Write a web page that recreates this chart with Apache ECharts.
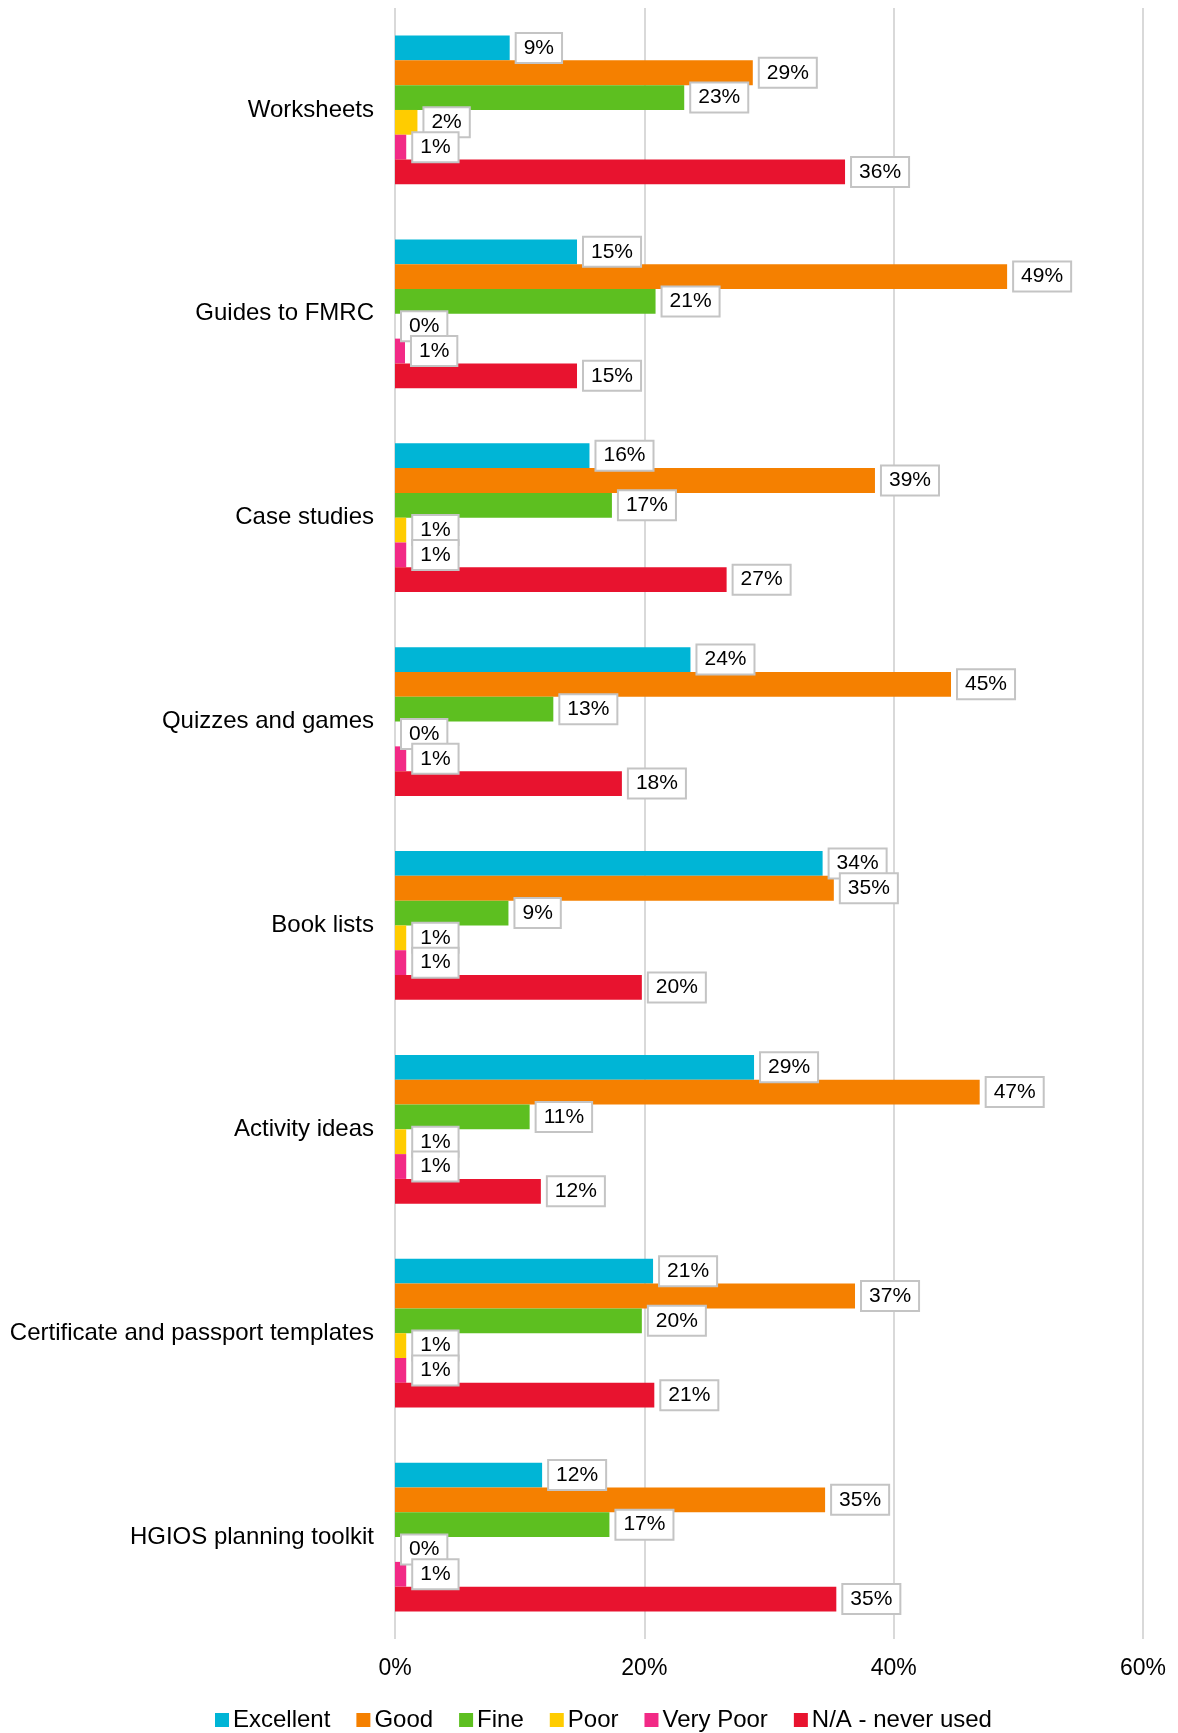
<!DOCTYPE html>
<html><head><meta charset="utf-8">
<script src="https://cdn.jsdelivr.net/npm/echarts@6/dist/echarts.min.js"></script>
<style>html,body{margin:0;padding:0;background:#fff}#chart{width:1178px;height:1733px}</style>
</head><body>
<div id="chart"></div>
<script>
// categories, top to bottom
var categories = ['Worksheets', 'Guides to FMRC', 'Case studies', 'Quizzes and games',
  'Book lists', 'Activity ideas', 'Certificate and passport templates', 'HGIOS planning toolkit'];

// percent values (labels show them rounded)
var excellent = [9.2, 14.6, 15.6, 23.7, 34.3, 28.8, 20.7, 11.8];
var good      = [28.7, 49.1, 38.5, 44.6, 35.2, 46.9, 36.9, 34.5];
var fine      = [23.2, 20.9, 17.4, 12.7, 9.1, 10.8, 19.8, 17.2];
var poor      = [1.8, 0, 0.9, 0, 0.9, 0.9, 0.9, 0];
var veryPoor  = [0.9, 0.8, 0.9, 0.9, 0.9, 0.9, 0.9, 0.9];
var notUsed   = [36.1, 14.6, 26.6, 18.2, 19.8, 11.7, 20.8, 35.4];

var xTicks = [0, 20, 40, 60];

var seriesDefs = [
  ['Excellent', excellent, '#00B5D6'],
  ['Good', good, '#F58000'],
  ['Fine', fine, '#5DBF20'],
  ['Poor', poor, '#FFCC00'],
  ['Very Poor', veryPoor, '#F22A86'],
  ['N/A - never used', notUsed, '#E8132F']
];

var font = 'Liberation Sans, Arial, sans-serif';

var chart = echarts.init(document.getElementById('chart'));
chart.setOption({
  animation: false,
  textStyle: { fontFamily: font },
  grid: { left: 395, right: 35, top: 8, bottom: 94, containLabel: false },
  legend: {
    top: 1703, left: 210,
    itemWidth: 14, itemHeight: 14, itemGap: 26,
    icon: 'rect',
    textStyle: { fontSize: 24, color: '#000', fontFamily: font, padding: [0, 0, 0, -1] },
    data: seriesDefs.map(function (s) { return s[0]; })
  },
  xAxis: {
    type: 'value', min: xTicks[0], max: xTicks[xTicks.length - 1], interval: 20,
    axisLine: { show: false }, axisTick: { show: false },
    splitLine: { lineStyle: { color: '#d9d9d9', width: 2 } },
    axisLabel: { formatter: '{value}%', fontSize: 23, color: '#000', margin: 18, fontFamily: font }
  },
  yAxis: {
    type: 'category', data: categories, inverse: true,
    axisLine: { show: false }, axisTick: { show: false },
    axisLabel: { fontSize: 24, color: '#000', margin: 21, fontFamily: font }
  },
  series: seriesDefs.map(function (s) {
    return {
      name: s[0], type: 'bar', data: s[1],
      barGap: '0%', barCategoryGap: '27%',
      itemStyle: { color: s[2] },
      label: {
        show: true, position: 'right', distance: 7,
        formatter: function (p) { return Math.round(p.value) + '%'; },
        fontSize: 21, color: '#000', fontFamily: font,
        backgroundColor: '#fff', borderColor: '#c4c4c4', borderWidth: 2,
        padding: [4, 7, 3, 7]
      }
    };
  })
});
</script>
</body></html>
